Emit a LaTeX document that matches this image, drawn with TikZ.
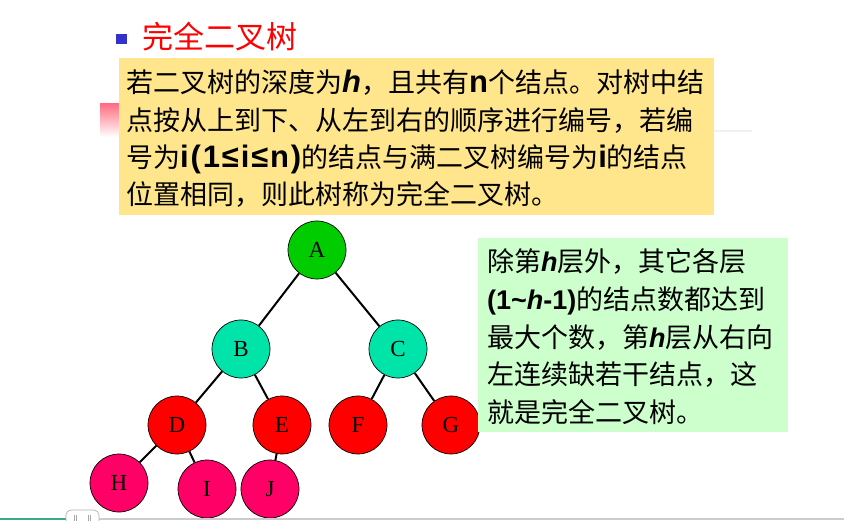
\documentclass[tikz,border=0pt]{standalone}
\usepackage{fontspec}
\setmainfont{Liberation Serif}
\newfontfamily\cjk{Noto Sans CJK SC}
\newfontfamily\lsans{Liberation Sans}
\newfontfamily\lsanswide[LetterSpace=6]{Liberation Sans}
\newcommand{\bsf}[1]{{\lsans\bfseries #1}}
\newcommand{\bif}[1]{{\lsans\bfseries\itshape #1}}
\newcommand{\bsfL}[1]{{\lsans\bfseries\fontsize{31}{31}\selectfont #1}}
\newcommand{\bsfW}[1]{{\lsanswide\bfseries\fontsize{31}{31}\selectfont #1}}
\newcommand{\bifL}[1]{{\lsans\bfseries\itshape\fontsize{31}{31}\selectfont #1}}
\definecolor{yel}{RGB}{255,230,140}
\definecolor{lgreen}{RGB}{204,255,204}
\definecolor{nodeA}{RGB}{0,204,0}
\definecolor{nodeBC}{RGB}{0,228,170}
\definecolor{nodeR}{RGB}{255,0,0}
\definecolor{nodeP}{RGB}{255,0,102}
\definecolor{bulletblue}{RGB}{51,51,204}
\definecolor{barteal}{RGB}{60,170,136}
\definecolor{pinkish}{RGB}{255,110,130}
\tikzset{
  txt/.style={anchor=base west, inner sep=0pt, font=\cjk\fontsize{27}{27}\selectfont},
  tnode/.style={circle, draw=black, line width=0.7pt, minimum size=58pt, inner sep=0pt,
                font=\fontsize{23}{23}\selectfont},
  edge/.style={line width=2pt, black},
  panel/.style={inner sep=0pt, outer sep=0pt, draw=none}
}
\begin{document}
\begin{tikzpicture}[x=1pt,y=-1pt]
\useasboundingbox (0,0) rectangle (844,521);
\fill[white] (0,0) rectangle (844,521);

% title
\node[panel, fill=bulletblue, minimum width=11pt, minimum height=10pt, anchor=north west] (bullet) at (116,34) {};
\node[anchor=base west, inner sep=0pt, text=red, font=\cjk\fontsize{31}{31}\selectfont] (title) at (142,49) {完全二叉树};

% pink gradient and faint line
\shade[top color=pinkish, bottom color=white] (100,104) rectangle (119,137);
\draw[gray!12, line width=1.5pt] (714,131) -- (752,131);

% yellow panel
\node[panel, fill=yel, minimum width=595pt, minimum height=157pt, anchor=north west] (ybox) at (119,58) {};
\node[txt] (y1) at (126,93) {若二叉树的深度为\bifL{h}，且共有\bsfL{n}个结点。对树中结};
\node[txt] (y2) at (126,130.5) {点按从上到下、从左到右的顺序进行编号，若编};
\node[txt] (y3) at (126,167.5) {号为\bsfW{i(1≤i≤n)}的结点与满二叉树编号为\bsfW{i}的结点};
\node[txt] (y4) at (126,205) {位置相同，则此树称为完全二叉树。};

% tree
\node[tnode, fill=nodeA]  (A) at (317,250) {A};
\node[tnode, fill=nodeBC] (B) at (241,349) {B};
\node[tnode, fill=nodeBC] (C) at (398,349) {C};
\node[tnode, fill=nodeR]  (D) at (177,425) {D};
\node[tnode, fill=nodeR]  (E) at (282,425) {E};
\node[tnode, fill=nodeR]  (F) at (358,425) {F};
\node[tnode, fill=nodeR]  (G) at (451,425) {G};
\node[tnode, fill=nodeP]  (H) at (119,483) {H};
\node[tnode, fill=nodeP]  (I) at (207,489) {I};
\node[tnode, fill=nodeP]  (J) at (270,489) {J};
\draw[edge] (A) -- (B);
\draw[edge] (A) -- (C);
\draw[edge] (B) -- (D);
\draw[edge] (B) -- (E);
\draw[edge] (C) -- (F);
\draw[edge] (C) -- (G);
\draw[edge] (D) -- (H);
\draw[edge] (D) -- (I);
\draw[edge] (E) -- (J);

% green panel
\node[panel, fill=lgreen, minimum width=310pt, minimum height=194pt, anchor=north west] (gbox) at (478,238) {};
\node[txt] (g1) at (487,272) {除第\bif{h}层外，其它各层};
\node[txt] (g2) at (487,310) {\bsf{(1\textasciitilde}\bif{h}\bsf{-1)}的结点数都达到};
\node[txt] (g3) at (487,347.5) {最大个数，第\bif{h}层从右向};
\node[txt] (g4) at (487,385) {左连续缺若干结点，这};
\node[txt] (g5) at (487,422.5) {就是完全二叉树。};

% bottom bar
\draw[barteal, line width=2pt] (0,519) -- (66,519);
\draw[gray!40, line width=1.5pt] (66,519) -- (844,519);
\draw[gray!60, fill=white, rounded corners=5pt, line width=0.7pt] (66,510) rectangle (99,530);
\foreach \xx in {74,76,88,90} \draw[gray!70, line width=0.5pt] (\xx,515) -- (\xx,521);
\end{tikzpicture}
\end{document}
